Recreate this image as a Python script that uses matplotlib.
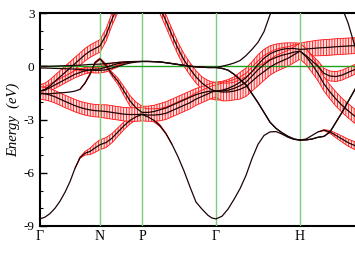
import numpy as np
import matplotlib
matplotlib.use('Agg')
import matplotlib.pyplot as plt
from matplotlib.ticker import MultipleLocator

# k-path coordinate (arbitrary path units)
k = [0.00, 0.05, 0.10, 0.15, 0.20, 0.25, 0.30, 0.35, 0.40, 0.45, 0.50, 0.55, 0.60,
     0.66, 0.72, 0.78, 0.84, 0.90, 0.96, 1.02,
     1.08, 1.14, 1.20, 1.26, 1.32, 1.38, 1.44, 1.50, 1.56, 1.62, 1.68, 1.72, 1.76,
     1.82, 1.88, 1.94, 2.00, 2.06, 2.12, 2.18, 2.24, 2.30, 2.36, 2.42, 2.48, 2.54, 2.60,
     2.66, 2.72, 2.78, 2.84, 2.90, 2.96, 3.02, 3.08, 3.14, 3.20]

kpoint_pos = [0.0, 0.60, 1.02, 1.76, 2.60]
kpoint_labels = ['Γ', 'N', 'P', 'Γ', 'H']

# band energies (eV)
band_1 = [-8.6, -8.5, -8.3, -8.0, -7.6, -7.1, -6.5, -5.75, -5.15, -4.9, -4.8, -4.6, -4.42,
          -4.3, -4.05, -3.7, -3.35, -3.05, -2.85, -2.72,
          -2.85, -3.05, -3.35, -3.8, -4.4, -5.1, -5.9, -6.8, -7.65, -8.05, -8.4, -8.55, -8.6,
          -8.45, -8.05, -7.5, -6.9, -6.15, -5.2, -4.4, -3.9, -3.7, -3.68, -3.82, -4.0, -4.12, -4.16,
          -4.1, -3.9, -3.7, -3.6, -3.7, -3.9, -4.1, -4.3, -4.45, -4.6]
weight_1 = [0, 0, 0, 0, 0, 0, 0, 0, 0.04, 0.1, 0.18, 0.25, 0.28,
            0.28, 0.26, 0.24, 0.22, 0.2, 0.18, 0.17,
            0.13, 0.09, 0.05, 0.02, 0, 0, 0, 0, 0, 0, 0, 0, 0,
            0, 0, 0, 0, 0, 0, 0, 0, 0, 0, 0, 0, 0, 0,
            0, 0, 0, 0.03, 0.08, 0.13, 0.17, 0.2, 0.22, 0.24]

band_2 = [-1.4, -1.3, -1.1, -0.85, -0.6, -0.35, -0.1, 0.15, 0.4, 0.65, 0.85, 1.0, 1.15,
          1.75, 2.65, 3.4, 4.1, 4.6, 5.0, 5.2,
          4.8, 4.0, 3.3, 2.55, 1.75, 1.0, 0.35, -0.15, -0.6, -0.95, -1.2, -1.33, -1.4,
          -1.35, -1.25, -1.1, -0.9, -0.65, -0.3, 0.1, 0.45, 0.7, 0.85, 0.95, 1.0, 1.0, 0.95,
          0.97, 1.0, 1.03, 1.05, 1.07, 1.1, 1.12, 1.14, 1.16, 1.18]
weight_2 = [0.35] * 13 + [0.35] * 7 + \
           [0.35, 0.35, 0.35, 0.35, 0.35, 0.35, 0.35, 0.35, 0.35, 0.35, 0.4, 0.45, 0.5] + \
           [0.5, 0.5, 0.5, 0.55, 0.55, 0.55, 0.55, 0.5, 0.45, 0.4, 0.35, 0.32, 0.32, 0.35] + \
           [0.4, 0.42, 0.44, 0.45, 0.45, 0.45, 0.45, 0.45, 0.45, 0.45]

band_3 = [-1.4, -1.35, -1.2, -1.05, -0.9, -0.75, -0.6, -0.45, -0.35, -0.25, -0.2, -0.17, -0.15,
          -0.05, 0.05, 0.15, 0.2, 0.24, 0.26, 0.27,
          0.27, 0.26, 0.24, 0.2, 0.15, 0.1, 0.05, 0.0, -0.03, -0.05, -0.07, -0.07, -0.07,
          0.0, 0.08, 0.18, 0.32, 0.6, 0.95, 1.35, 1.95, 2.9, 3.6, 4.2, 4.7, 5.0, 5.2,
          5.2, 5.0, 4.8, 4.5, 4.1, 3.7, 3.3, 2.45, 1.3, 0.3]
weight_3 = [0.2, 0.2, 0.2, 0.2, 0.2, 0.2, 0.2, 0.2, 0.19, 0.18, 0.17, 0.17, 0.17,
            0.15, 0.12, 0.08, 0.05, 0.03, 0.01, 0] + [0] * 37

band_4 = [-1.55, -1.55, -1.55, -1.52, -1.5, -1.48, -1.45, -1.4, -1.3, -0.95, -0.45, 0.2, 0.42,
          0.05, -0.45, -0.85, -1.4, -1.95, -2.35, -2.6,
          -2.6, -2.55, -2.45, -2.35, -2.2, -2.05, -1.9, -1.75, -1.6, -1.5, -1.42, -1.4, -1.4,
          -1.4, -1.35, -1.25, -1.1, -0.9, -0.55, -0.2, 0.1, 0.35, 0.5, 0.62, 0.7, 0.8, 0.85,
          0.6, 0.3, 0.0, -0.4, -0.55, -0.58, -0.5, -0.35, -0.2, -0.1]
weight_4 = [0, 0, 0, 0, 0, 0, 0, 0, 0, 0.02, 0.04, 0.05, 0.05,
            0.08, 0.12, 0.18, 0.25, 0.3, 0.33, 0.35,
            0.35, 0.35, 0.35, 0.35, 0.35, 0.35, 0.35, 0.35, 0.35, 0.35, 0.4, 0.45, 0.5,
            0.5, 0.5, 0.5, 0.5, 0.5, 0.5, 0.5, 0.5, 0.45, 0.45, 0.42, 0.4, 0.4, 0.42,
            0.38, 0.33, 0.3, 0.28, 0.28, 0.28, 0.28, 0.28, 0.28, 0.28]

band_5 = [-1.5, -1.55, -1.62, -1.72, -1.85, -1.98, -2.1, -2.22, -2.32, -2.4, -2.46, -2.5, -2.52,
          -2.55, -2.6, -2.65, -2.7, -2.72, -2.72, -2.7,
          -2.75, -2.75, -2.72, -2.65, -2.5, -2.35, -2.2, -2.05, -1.85, -1.7, -1.55, -1.45, -1.4,
          -1.45, -1.45, -1.4, -1.3, -1.15, -0.85, -0.55, -0.3, -0.05, 0.15, 0.3, 0.45, 0.65, 0.85,
          0.55, 0.1, -0.4, -1.0, -1.45, -1.85, -2.2, -2.5, -2.78, -3.0]
weight_5 = [0.35] * 13 + [0.38] * 7 + [0.35] * 13 + \
           [0.5, 0.5, 0.5, 0.55, 0.55, 0.55, 0.55, 0.5, 0.45, 0.45, 0.45, 0.45, 0.45, 0.45] + \
           [0.45, 0.45, 0.42, 0.4, 0.4, 0.4, 0.4, 0.4, 0.4, 0.4]

band_6 = [0.0, 0.0, 0.0, 0.01, 0.02, 0.03, 0.04, 0.05, 0.06, 0.08, 0.1, 0.11, 0.12,
          0.15, 0.18, 0.21, 0.24, 0.26, 0.27, 0.27,
          0.27, 0.26, 0.24, 0.2, 0.15, 0.1, 0.05, 0.0, -0.03, -0.05, -0.07, -0.07, -0.07,
          -0.12, -0.22, -0.45, -0.75, -1.05, -1.55, -2.05, -2.6, -3.15, -3.5, -3.75, -3.95, -4.1, -4.16,
          -4.15, -4.1, -4.0, -3.95, -3.7, -3.15, -2.6, -2.0, -1.4, -0.8]
weight_6 = [0] * 57

band_7 = [-0.1, -0.1, -0.11, -0.12, -0.13, -0.14, -0.15, -0.16, -0.18, -0.2, -0.22, -0.23, -0.23,
          -0.2, -0.1, 0.0, 0.1, 0.18, 0.24, 0.27,
          0.27, 0.26, 0.24, 0.2, 0.15, 0.1, 0.05, 0.0, -0.03, -0.05, -0.07, -0.07, -0.07,
          -0.12, -0.22, -0.45, -0.75, -1.05, -1.55, -2.05, -2.6, -3.15, -3.5, -3.75, -3.95, -4.1, -4.16,
          -4.15, -4.1, -4.0, -3.95, -3.7, -3.15, -2.6, -2.0, -1.4, -0.8]
weight_7 = [0, 0, 0, 0, 0, 0, 0, 0, 0.05, 0.1, 0.13, 0.15, 0.15,
            0.12, 0.08, 0.04, 0, 0, 0, 0] + [0] * 37

bands = [band_1, band_2, band_3, band_4, band_5, band_6, band_7]
weights = [weight_1, weight_2, weight_3, weight_4, weight_5, weight_6, weight_7]

y_ticks = [-9, -6, -3, 0, 3]
y_tick_labels = ['-9', '-6', '-3', '0', '3']

plt.rcParams['font.family'] = ['Liberation Serif', 'DejaVu Serif']
plt.rcParams['axes.unicode_minus'] = False
plt.rcParams['hatch.linewidth'] = 0.6

fig = plt.figure(figsize=(3.55, 2.74), dpi=100)
ax = fig.add_axes([40 / 355, 48 / 274, 320 / 355, 213 / 274])

kk = np.array(k)
for E, w in zip(bands, weights):
    E = np.array(E, dtype=float)
    w = np.array(w, dtype=float)
    pos = w > 0
    mask = pos.copy()
    mask[1:] |= pos[:-1]
    mask[:-1] |= pos[1:]
    if mask.any():
        ax.fill_between(kk, E - w, E + w, where=mask, facecolor='#ffe0e0',
                        edgecolor='#ff1010', hatch='|' * 6, linewidth=0.6, zorder=2)

for xp in kpoint_pos[1:]:
    ax.axvline(xp, color='#7fcc7f', lw=1.0, zorder=3)
ax.axhline(0, color='#22a022', lw=1.0, zorder=3)

for E in bands:
    ax.plot(kk, E, color='#1c0404', lw=0.9, zorder=4)

ax.set_xlim(k[0], k[-1])
ax.set_ylim(-9, 3)
ax.set_xticks(kpoint_pos)
ax.set_xticklabels(kpoint_labels)
ax.set_yticks(y_ticks)
ax.set_yticklabels(y_tick_labels)
ax.yaxis.set_minor_locator(MultipleLocator(1))
ax.tick_params(axis='y', which='major', direction='in', length=5, width=1.0, labelsize=9.5, pad=4)
ax.tick_params(axis='y', which='minor', direction='in', length=2.5, width=0.8)
ax.tick_params(axis='x', which='major', length=0, labelsize=10, pad=3)
for s in ['left', 'bottom', 'top', 'right']:
    ax.spines[s].set_linewidth(1.5)
ax.set_ylabel('Energy  (eV)', style='italic', fontsize=10.5, labelpad=2)

fig.savefig('out.png', dpi=100)
